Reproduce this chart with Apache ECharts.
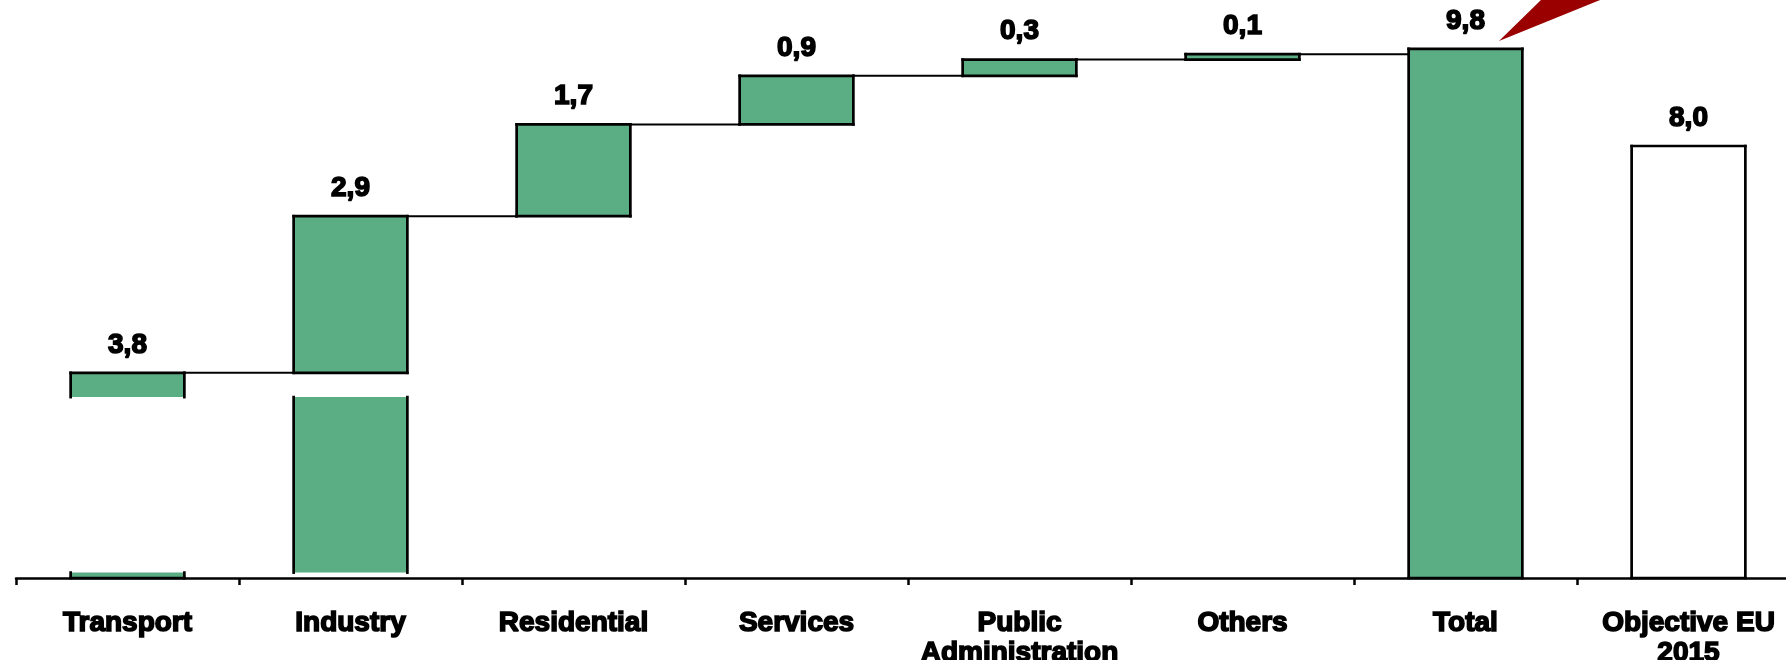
<!DOCTYPE html>
<html>
<head>
<meta charset="utf-8">
<script src="https://cdn.jsdelivr.net/npm/echarts@6/dist/echarts.min.js"></script>
<style>
  html, body { margin: 0; padding: 0; background: #ffffff; }
  #chart { width: 1786px; height: 660px; }
</style>
</head>
<body>
<div id="chart"></div>
<script>
// Energy saving contributions by sector (waterfall), total and EU objective
const categories = ['Transport', 'Industry', 'Residential', 'Services', 'Public\nAdministration', 'Others', 'Total', 'Objective EU\n2015'];
const increments = [3.8, 2.9, 1.7, 0.9, 0.3, 0.1];
const totalValue = 9.8;
const objectiveValue = 8.0;
// Range of the value axis in which the first two columns are interrupted
const cutBand = [0.1, 3.35];

const GREEN = '#5bae83';
const BAR_RATIO = 0.51;
const FONT = '"Liberation Sans", Arial, sans-serif';

// Cumulative levels of the floating sector bars
const levels = [];
increments.reduce((acc, v) => { const next = +(acc + v).toFixed(2); levels.push([acc, next]); return next; }, 0);

// Segments: [column, low, high, bottom edge?, top edge?, green fill?]
const segments = [];
levels.forEach(([lo, hi], i) => {
  if (i === 0) {
    segments.push([i, lo, cutBand[0], 1, 0, 1]);
    segments.push([i, cutBand[1], hi, 0, 1, 1]);
  } else if (i === 1) {
    segments.push([i, cutBand[0], cutBand[1], 0, 0, 1]);
    segments.push([i, lo, hi, 1, 1, 1]);
  } else {
    segments.push([i, lo, hi, 1, 1, 1]);
  }
});
segments.push([6, 0, totalValue, 1, 1, 1]);
segments.push([7, 0, objectiveValue, 1, 1, 0]);

// Value labels at the top of each column
const labelData = increments.map((v, i) => [i, levels[i][1], v])
  .concat([[6, totalValue, totalValue], [7, objectiveValue, objectiveValue]]);

// Connectors between consecutive columns
const connectorData = levels.map(([, hi], i) => [i, hi]);

function edge(x1, y1, x2, y2, w) {
  return { type: 'line', shape: { x1, y1, x2, y2 }, style: { stroke: '#000', lineWidth: w, lineCap: 'square' } };
}

function renderSegment(params, api) {
  const idx = api.value(0);
  const lo = api.value(1), hi = api.value(2);
  const capBottom = api.value(3) === 1, capTop = api.value(4) === 1;
  const fill = api.value(5) === 1 ? GREEN : '#ffffff';
  const w = api.size([1, 0])[0] * BAR_RATIO;
  const pLo = api.coord([idx, lo]);
  const pHi = api.coord([idx, hi]);
  const x0 = pLo[0] - w / 2, x1 = pLo[0] + w / 2;
  const yB = pLo[1], yT = pHi[1];
  const children = [
    { type: 'rect', shape: { x: x0, y: yT, width: w, height: yB - yT }, style: { fill } },
    edge(x0, yT, x0, yB, 2.7),
    edge(x1, yT, x1, yB, 2.7)
  ];
  if (capTop) children.push(edge(x0, yT, x1, yT, 2.7));
  if (capBottom) children.push(edge(x0, yB, x1, yB, 2.7));
  return { type: 'group', children };
}

function renderConnector(params, api) {
  const idx = api.value(0);
  const w = api.size([1, 0])[0] * BAR_RATIO;
  const a = api.coord([idx, api.value(1)]);
  const b = api.coord([idx + 1, api.value(1)]);
  return {
    type: 'line',
    shape: { x1: a[0] + w / 2, y1: a[1], x2: b[0] - w / 2, y2: a[1] },
    style: { stroke: '#000', lineWidth: 2 }
  };
}

function renderLabel(params, api) {
  const p = api.coord([api.value(0), api.value(1)]);
  const text = api.value(2).toFixed(1).replace('.', ',');
  return {
    type: 'text',
    style: {
      text, x: p[0], y: p[1] - 28,
      align: 'center', verticalAlign: 'middle',
      font: 'bold 28px ' + FONT,
      fill: '#000', stroke: '#000', lineWidth: 1.6
    }
  };
}

const chart = echarts.init(document.getElementById('chart'), null, { renderer: 'canvas' });
chart.setOption({
  animation: false,
  backgroundColor: '#ffffff',
  grid: { left: 16, right: -14, top: 38, bottom: 82, containLabel: false, outerBoundsMode: 'none' },
  xAxis: {
    type: 'category',
    data: categories,
    axisLine: { lineStyle: { color: '#000', width: 2.5 } },
    axisTick: { show: true, length: 7, lineStyle: { color: '#000', width: 2.5 } },
    axisLabel: {
      interval: 0, margin: 30,
      color: '#000', fontSize: 28, fontWeight: 'bold', fontFamily: FONT,
      lineHeight: 30, textBorderColor: '#000', textBorderWidth: 1.6
    },
    splitLine: { show: false }
  },
  yAxis: { type: 'value', min: 0, max: 10, show: false },
  graphic: [
    { type: 'polygon', shape: { points: [[1499, 41], [1543, -2], [1605, -2]] }, style: { fill: '#9a0000' }, z: 10 }
  ],
  series: [
    { type: 'custom', renderItem: renderConnector, data: connectorData, encode: { x: 0, y: 1 }, z: 1, silent: true },
    { type: 'custom', renderItem: renderSegment, data: segments, encode: { x: 0, y: [1, 2] }, z: 2, silent: true },
    { type: 'custom', renderItem: renderLabel, data: labelData, encode: { x: 0, y: 1 }, z: 3, silent: true }
  ]
});
</script>
</body>
</html>
